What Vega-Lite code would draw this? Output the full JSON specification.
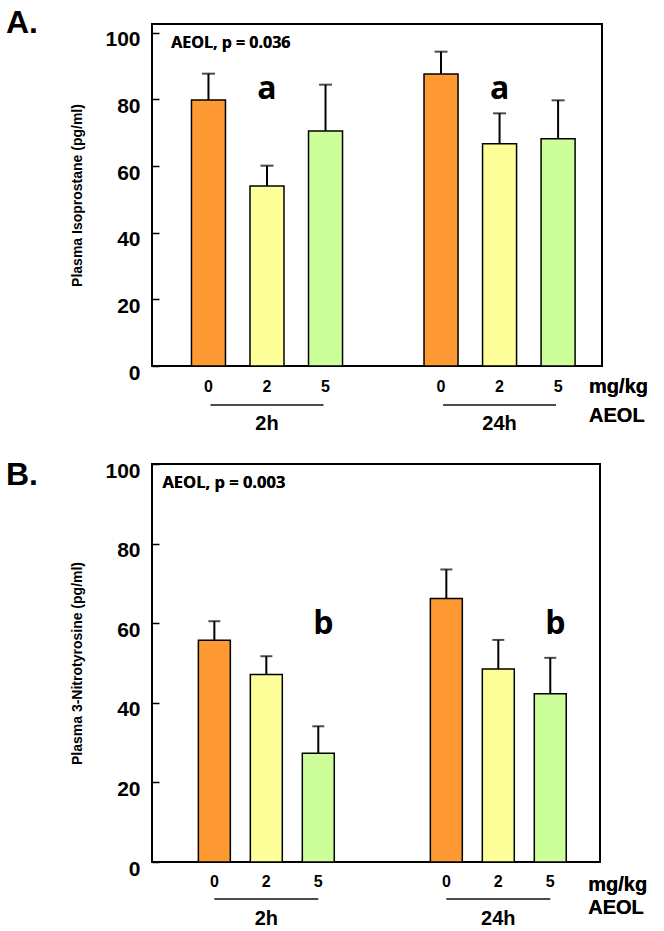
{
  "$schema": "https://vega.github.io/schema/vega-lite/v6.json",
  "padding": {"left": 4, "top": 6, "right": 0, "bottom": 0},
  "background": "white",
  "spacing": 24,
  "resolve": {"scale": {"x": "independent", "xOffset": "independent", "y": "independent"}},
  "config": {
    "font": "Liberation Sans",
    "view": {"stroke": "black", "strokeWidth": 2},
    "axis": {"grid": false},
    "title": {"font": "Liberation Sans", "fontSize": 32, "fontWeight": "bold", "color": "black"}
  },
  "datasets": {
    "iso": [
      {"time": "2h", "dose": "0", "mean": 79.8, "upper": 87.7},
      {"time": "2h", "dose": "2", "mean": 54.0, "upper": 60.1},
      {"time": "2h", "dose": "5", "mean": 70.5, "upper": 84.4},
      {"time": "24h", "dose": "0", "mean": 87.6, "upper": 94.3},
      {"time": "24h", "dose": "2", "mean": 66.7, "upper": 75.8},
      {"time": "24h", "dose": "5", "mean": 68.2, "upper": 79.7}
    ],
    "nitro": [
      {"time": "2h", "dose": "0", "mean": 55.7, "upper": 60.5},
      {"time": "2h", "dose": "2", "mean": 47.1, "upper": 51.7},
      {"time": "2h", "dose": "5", "mean": 27.3, "upper": 34.1},
      {"time": "24h", "dose": "0", "mean": 66.2, "upper": 73.5},
      {"time": "24h", "dose": "2", "mean": 48.5, "upper": 55.8},
      {"time": "24h", "dose": "5", "mean": 42.3, "upper": 51.3}
    ],
    "lettersA": [
      {"time": "2h", "dose": "2", "label": "a"},
      {"time": "24h", "dose": "2", "label": "a"}
    ],
    "lettersB": [
      {"time": "2h", "dose": "5", "label": "b"},
      {"time": "24h", "dose": "5", "label": "b"}
    ],
    "groups": [{"time": "2h"}, {"time": "24h"}]
  },
  "vconcat": [
    {
      "width": 450,
      "height": 342,
      "title": {"text": "A.", "anchor": "start", "frame": "bounds", "dx": -65, "offset": -16},
      "encoding": {
        "x": {
          "field": "time", "type": "nominal", "sort": ["2h", "24h"],
          "scale": {"paddingInner": 0.245, "paddingOuter": 0.09, "align": 0.65},
          "axis": {"title": null, "ticks": false, "domain": false, "labelAngle": 0, "labelPadding": 47,
                   "labelFontSize": 20, "labelFontWeight": "bold", "labelColor": "black"}
        }
      },
      "layer": [
        {
          "data": {"name": "iso"},
          "mark": {"type": "bar", "stroke": "black", "strokeWidth": 1.5},
          "encoding": {
            "xOffset": {"field": "dose", "type": "nominal", "sort": ["0", "2", "5"],
                        "scale": {"paddingInner": 0.419, "paddingOuter": 0.2094}},
            "y": {
              "field": "mean", "type": "quantitative",
              "scale": {"domain": [0, 102.6], "nice": false, "zero": true},
              "axis": {"title": "Plasma Isoprostane (pg/ml)", "titleFontSize": 14, "titleFontWeight": "bold",
                       "titleColor": "black", "titlePadding": 20, "values": [0, 20, 40, 60, 80, 100],
                       "tickSize": -7, "tickColor": "black", "tickWidth": 1.5, "labelFontSize": 21,
                       "labelFontWeight": "bold", "labelColor": "black", "labelPadding": 19, "labelOffset": 7,
                       "domain": false}
            },
            "color": {"field": "dose", "type": "nominal",
                      "scale": {"domain": ["0", "2", "5"], "range": ["#FF9933", "#FFFF99", "#CCFF99"]},
                      "legend": null}
          }
        },
        {
          "data": {"name": "iso"},
          "mark": {"type": "rule", "color": "black", "strokeWidth": 2},
          "encoding": {
            "xOffset": {"field": "dose", "type": "nominal", "sort": ["0", "2", "5"]},
            "y": {"field": "mean", "type": "quantitative"},
            "y2": {"field": "upper"}
          }
        },
        {
          "data": {"name": "iso"},
          "mark": {"type": "tick", "color": "black", "size": 13, "thickness": 2},
          "encoding": {
            "xOffset": {"field": "dose", "type": "nominal", "sort": ["0", "2", "5"]},
            "y": {"field": "upper", "type": "quantitative"}
          }
        },
        {
          "data": {"name": "iso"},
          "mark": {"type": "text", "fontSize": 16, "fontWeight": "bold", "color": "black", "baseline": "middle"},
          "encoding": {
            "xOffset": {"field": "dose", "type": "nominal", "sort": ["0", "2", "5"]},
            "y": {"datum": -6.3},
            "text": {"field": "dose"}
          }
        },
        {
          "data": {"name": "groups"},
          "mark": {"type": "tick", "color": "black", "size": 113, "thickness": 2},
          "encoding": {"y": {"datum": -11.7}}
        },
        {
          "data": {"name": "lettersA"},
          "mark": {"type": "text", "font": "Open Sans", "fontSize": 32, "fontWeight": "bold", "color": "black", "baseline": "middle"},
          "encoding": {
            "xOffset": {"field": "dose", "type": "nominal", "sort": ["0", "2", "5"]},
            "y": {"datum": 83},
            "text": {"field": "label"}
          }
        },
        {
          "data": {"name": "groups"},
          "mark": {"type": "text", "text": "AEOL, p = 0.036", "font": "Open Sans", "fontSize": 16, "fontWeight": "bold",
                   "color": "black", "align": "left", "baseline": "middle", "dx": -8},
          "encoding": {"x": {"datum": "2h", "bandPosition": 0}, "y": {"datum": 97}}
        },
        {
          "data": {"name": "groups"},
          "mark": {"type": "text", "text": "mg/kg", "fontSize": 20, "fontWeight": "bold",
                   "color": "black", "align": "left", "baseline": "middle", "dx": 31},
          "encoding": {"x": {"datum": "24h"}, "xOffset": {"datum": "5"}, "y": {"datum": -6.3}}
        },
        {
          "data": {"name": "groups"},
          "mark": {"type": "text", "text": "AEOL", "fontSize": 20, "fontWeight": "bold",
                   "color": "black", "align": "left", "baseline": "middle", "dx": 31},
          "encoding": {"x": {"datum": "24h"}, "xOffset": {"datum": "5"}, "y": {"datum": -15.1}}
        }
      ]
    },
    {
      "width": 448,
      "height": 398,
      "title": {"text": "B.", "anchor": "start", "frame": "bounds", "dx": -65, "offset": -32},
      "encoding": {
        "x": {
          "field": "time", "type": "nominal", "sort": ["2h", "24h"],
          "scale": {"paddingInner": 0.328, "paddingOuter": 0.1296, "align": 0.605},
          "axis": {"title": null, "ticks": false, "domain": false, "labelAngle": 0, "labelPadding": 46,
                   "labelFontSize": 20, "labelFontWeight": "bold", "labelColor": "black"}
        }
      },
      "layer": [
        {
          "data": {"name": "nitro"},
          "mark": {"type": "bar", "stroke": "black", "strokeWidth": 1.5},
          "encoding": {
            "xOffset": {"field": "dose", "type": "nominal", "sort": ["0", "2", "5"],
                        "scale": {"paddingInner": 0.385, "paddingOuter": 0.1923}},
            "y": {
              "field": "mean", "type": "quantitative",
              "scale": {"domain": [0, 100], "nice": false, "zero": true},
              "axis": {"title": "Plasma 3-Nitrotyrosine (pg/ml)", "titleFontSize": 14, "titleFontWeight": "bold",
                       "titleColor": "black", "titlePadding": 20, "values": [0, 20, 40, 60, 80, 100],
                       "tickSize": -7, "tickColor": "black", "tickWidth": 1.5, "labelFontSize": 21,
                       "labelFontWeight": "bold", "labelColor": "black", "labelPadding": 19, "labelOffset": 7,
                       "domain": false}
            },
            "color": {"field": "dose", "type": "nominal",
                      "scale": {"domain": ["0", "2", "5"], "range": ["#FF9933", "#FFFF99", "#CCFF99"]},
                      "legend": null}
          }
        },
        {
          "data": {"name": "nitro"},
          "mark": {"type": "rule", "color": "black", "strokeWidth": 2},
          "encoding": {
            "xOffset": {"field": "dose", "type": "nominal", "sort": ["0", "2", "5"]},
            "y": {"field": "mean", "type": "quantitative"},
            "y2": {"field": "upper"}
          }
        },
        {
          "data": {"name": "nitro"},
          "mark": {"type": "tick", "color": "black", "size": 12, "thickness": 2},
          "encoding": {
            "xOffset": {"field": "dose", "type": "nominal", "sort": ["0", "2", "5"]},
            "y": {"field": "upper", "type": "quantitative"}
          }
        },
        {
          "data": {"name": "nitro"},
          "mark": {"type": "text", "fontSize": 16, "fontWeight": "bold", "color": "black", "baseline": "middle"},
          "encoding": {
            "xOffset": {"field": "dose", "type": "nominal", "sort": ["0", "2", "5"]},
            "y": {"datum": -5},
            "text": {"field": "dose"}
          }
        },
        {
          "data": {"name": "groups"},
          "mark": {"type": "tick", "color": "black", "size": 104, "thickness": 2},
          "encoding": {"y": {"datum": -9.3}}
        },
        {
          "data": {"name": "lettersB"},
          "mark": {"type": "text", "font": "Open Sans", "fontSize": 32, "fontWeight": "bold", "color": "black", "baseline": "middle", "dx": 5},
          "encoding": {
            "xOffset": {"field": "dose", "type": "nominal", "sort": ["0", "2", "5"]},
            "y": {"datum": 59.7},
            "text": {"field": "label"}
          }
        },
        {
          "data": {"name": "groups"},
          "mark": {"type": "text", "text": "AEOL, p = 0.003", "font": "Open Sans", "fontSize": 16.5, "fontWeight": "bold",
                   "color": "black", "align": "left", "baseline": "middle", "dx": -26},
          "encoding": {"x": {"datum": "2h", "bandPosition": 0}, "y": {"datum": 95.2}}
        },
        {
          "data": {"name": "groups"},
          "mark": {"type": "text", "text": "mg/kg", "fontSize": 20, "fontWeight": "bold",
                   "color": "black", "align": "left", "baseline": "middle", "dx": 38},
          "encoding": {"x": {"datum": "24h"}, "xOffset": {"datum": "5"}, "y": {"datum": -5.8}}
        },
        {
          "data": {"name": "groups"},
          "mark": {"type": "text", "text": "AEOL", "fontSize": 20, "fontWeight": "bold",
                   "color": "black", "align": "left", "baseline": "middle", "dx": 38},
          "encoding": {"x": {"datum": "24h"}, "xOffset": {"datum": "5"}, "y": {"datum": -11.6}}
        }
      ]
    }
  ]
}
